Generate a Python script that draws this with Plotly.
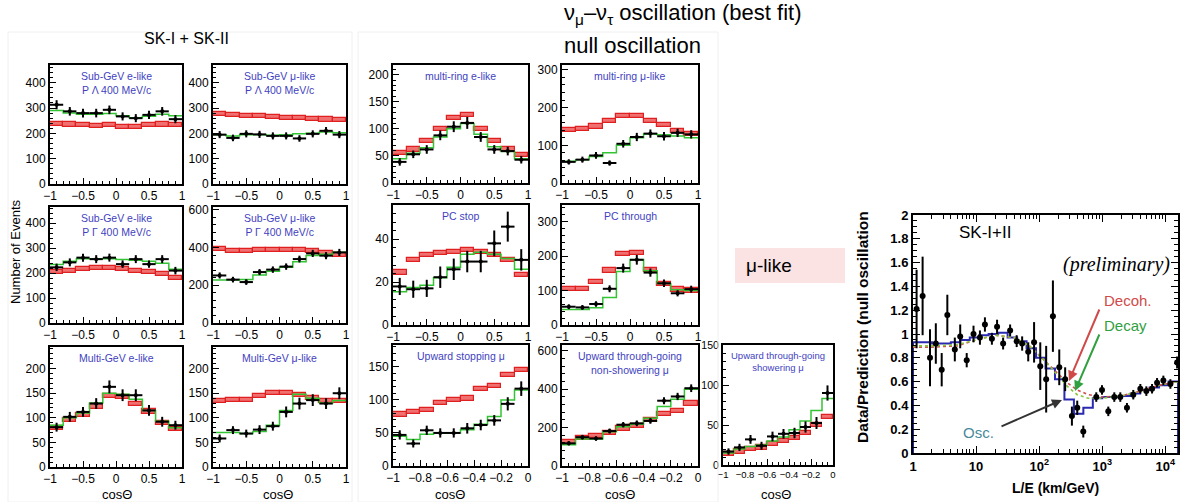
import plotly.graph_objects as go

W, H = 1180, 502
FONT = "Liberation Sans, Arial, sans-serif"
SERIF = "Liberation Serif, Times New Roman, serif"
BLUE_TXT = "#3f3fbf"
GREEN = "#33c433"
RED_LINE = "#e02020"
RED_FILL = "rgba(236,70,70,0.78)"

# ---------------- bins (categories) ----------------
cos_edges = [-1.0, -0.8, -0.6, -0.4, -0.2, 0.0, 0.2, 0.4, 0.6, 0.8, 1.0]
up_edges = [-1.0, -0.9, -0.8, -0.7, -0.6, -0.5, -0.4, -0.3, -0.2, -0.1, 0.0]

# ---------------- Sub-GeV e-like P<400 ----------------
sge_lo_data = [313, 287, 280, 280, 293, 267, 260, 273, 287, 256]
sge_lo_err = [18, 17, 17, 17, 17, 16, 16, 16, 17, 16]
sge_lo_osc = [290, 280, 275, 275, 278, 270, 262, 268, 275, 270]
sge_lo_null = [238, 235, 232, 230, 232, 225, 225, 232, 235, 232]

# ---------------- Sub-GeV mu-like P<400 ----------------
sgm_lo_data = [195, 182, 198, 196, 190, 190, 180, 198, 210, 195]
sgm_lo_err = [14, 13, 14, 14, 14, 14, 13, 14, 15, 14]
sgm_lo_osc = [195, 190, 195, 195, 193, 195, 198, 200, 205, 202]
sgm_lo_null = [275, 272, 270, 268, 266, 262, 260, 258, 255, 252]

# ---------------- Sub-GeV e-like P>400 ----------------
sge_hi_data = [223, 243, 262, 256, 262, 236, 256, 236, 256, 210]
sge_hi_err = [15, 16, 16, 16, 16, 15, 16, 15, 16, 15]
sge_hi_osc = [235, 248, 258, 258, 258, 255, 252, 248, 240, 215]
sge_hi_null = [203, 210, 218, 222, 220, 216, 210, 203, 195, 182]

# ---------------- Sub-GeV mu-like P>400 ----------------
sgm_hi_data = [252, 230, 217, 270, 283, 299, 339, 369, 357, 374]
sgm_hi_err = [16, 15, 15, 16, 17, 17, 18, 19, 19, 19]
sgm_hi_osc = [228, 228, 230, 255, 275, 295, 325, 358, 365, 375]
sgm_hi_null = [390, 382, 382, 385, 388, 386, 385, 382, 372, 360]

# ---------------- Multi-GeV e-like ----------------
mge_data = [81, 102, 112, 129, 163, 146, 146, 115, 92, 85]
mge_err = [9, 10, 10, 11, 13, 12, 12, 11, 10, 9]
mge_osc = [85, 100, 110, 130, 150, 148, 138, 115, 93, 80]
mge_null = [80, 95, 105, 123, 145, 142, 128, 113, 90, 78]

# ---------------- Multi-GeV mu-like ----------------
mgm_data = [58, 75, 68, 76, 83, 112, 129, 136, 129, 150]
mgm_err = [8, 8, 8, 9, 9, 11, 12, 12, 11, 12]
mgm_osc = [70, 70, 68, 72, 85, 115, 148, 140, 130, 135]
mgm_null = [135, 137, 136, 145, 150, 150, 147, 140, 134, 134]

# ---------------- multi-ring e-like ----------------
mre_data = [39, 53, 62, 88, 104, 111, 85, 62, 59, 43]
mre_err = [7, 7, 8, 9, 10, 11, 9, 8, 8, 7]
mre_osc = [45, 55, 65, 85, 100, 110, 90, 67, 58, 45]
mre_null = [55, 62, 78, 100, 120, 125, 100, 78, 62, 52]

# ---------------- multi-ring mu-like ----------------
mrm_data = [56, 62, 73, 53, 104, 122, 131, 124, 133, 129]
mrm_err = [7, 8, 9, 7, 10, 11, 11, 11, 11, 11]
mrm_osc = [58, 62, 70, 80, 100, 120, 130, 128, 125, 120]
mrm_null = [140, 143, 150, 165, 178, 178, 165, 153, 138, 130]

# ---------------- PC stop ----------------
pcs_data = [18, 16.7, 17.1, 22.3, 26, 29.6, 29.6, 38.1, 45.9, 30.4]
pcs_err = [4, 4, 4, 5, 5, 5, 5, 6, 7, 5]
pcs_osc = [15.5, 17.5, 18.5, 22, 27, 33, 34, 33, 31, 26]
pcs_null = [24.5, 30.5, 32.5, 33.5, 34, 35, 34, 32.5, 30.5, 23.5]

# ---------------- PC through ----------------
pct_data = [53, 51, 61, 105, 165, 189, 152, 121, 92, 104]
pct_err = [7, 7, 8, 10, 13, 14, 12, 11, 9, 10]
pct_osc = [45, 45, 50, 80, 155, 190, 157, 120, 102, 100]
pct_null = [105, 105, 125, 158, 205, 208, 160, 120, 103, 100]

# ---------------- Upward stopping mu ----------------
ups_data = [47, 34, 54, 50, 50, 57, 62, 69, 94, 117]
ups_err = [7, 6, 7, 7, 7, 8, 8, 8, 10, 11]
ups_osc = [45, 40, 48, 50, 50, 55, 63, 75, 100, 115]
ups_null = [78, 82, 85, 95, 100, 102, 117, 121, 138, 145]

# ---------------- Upward through-going non-showering mu ----------------
utn_data = [118, 150, 143, 182, 215, 222, 235, 340, 362, 405]
utn_err = [11, 12, 12, 13, 14, 15, 15, 18, 19, 20]
utn_osc = [110, 140, 140, 178, 205, 218, 248, 310, 348, 400]
utn_null = [122, 145, 155, 172, 195, 210, 240, 270, 287, 325]

# ---------------- Upward through-going showering mu ----------------
uts_data = [16.8, 22, 32, 24, 35.7, 39, 40, 47.5, 52.5, 90]
uts_err = [4, 4.5, 5.5, 5, 6, 6, 6.5, 7, 7.5, 9.5]
uts_osc = [15, 20, 23, 25, 30, 35, 44, 55, 68, 83]
uts_null = [14, 17, 20, 22, 26, 30, 34, 40, 50, 60]

# ---------------- L/E analysis ----------------
le_x = [1.14, 1.42, 1.86, 2.3, 2.85, 3.5, 4.6, 5.6, 7.1, 9.1,
        11.5, 13.8, 17.8, 21.5, 26.8, 34.6, 44, 53.7, 67, 83,
        104, 129, 165, 208, 258, 330, 401, 500, 803, 989,
        1245, 1550, 1930, 2460, 3100, 4010, 4990, 6150, 7380, 9290,
        12000, 15350]
le_y = [1.21, 1.32, 0.80, 0.92, 0.70, 1.16, 0.87, 0.98, 0.78, 1.00,
        0.97, 1.08, 0.96, 1.06, 0.92, 1.03, 0.94, 0.92, 0.85, 0.93,
        0.73, 0.62, 1.15, 0.72, 0.62, 0.31, 0.38, 0.18, 0.47, 0.53,
        0.35, 0.47, 0.47, 0.38, 0.49, 0.54, 0.52, 0.54, 0.59, 0.61,
        0.58, 0.76]
le_err = [0.33, 0.33, 0.24, 0.17, 0.14, 0.17, 0.10, 0.10, 0.06, 0.07,
          0.06, 0.06, 0.05, 0.06, 0.05, 0.05, 0.05, 0.06, 0.08, 0.17,
          0.20, 0.28, 0.30, 0.15, 0.10, 0.08, 0.06, 0.05, 0.04, 0.04,
          0.04, 0.04, 0.04, 0.04, 0.04, 0.04, 0.04, 0.04, 0.04, 0.04,
          0.04, 0.05]
osc_edges = [1, 1.41, 2, 2.82, 3.98, 5.62, 7.94, 11.2, 15.8, 22.4,
             31.6, 44.7, 63.1, 89.1, 126, 178, 251, 355, 501, 708,
             1000, 1413, 1995, 2818, 3981, 5623, 7943, 11220, 15849]
osc_vals = [0.93, 0.93, 0.92, 0.92, 0.93, 0.95, 0.97, 0.99, 1.00, 1.01,
            0.97, 0.94, 0.88, 0.80, 0.71, 0.62, 0.45, 0.33, 0.38, 0.46,
            0.47, 0.47, 0.48, 0.50, 0.53, 0.55, 0.57, 0.60]
model_x = [1, 2, 5, 10, 20, 40, 70, 120, 200, 280, 400, 600, 1000, 2000, 4000, 8000, 15849]
decoh_y = [0.89, 0.89, 0.90, 0.95, 0.99, 0.97, 0.90, 0.78, 0.66, 0.59, 0.53, 0.49, 0.47, 0.48, 0.52, 0.57, 0.60]
decay_y = [0.90, 0.90, 0.91, 0.95, 0.99, 0.97, 0.90, 0.78, 0.65, 0.56, 0.49, 0.46, 0.46, 0.48, 0.52, 0.57, 0.60]

# ---------------- panel specs (layout in pixels) ----------------
panels = [
    dict(title="Sub-GeV e-like<br>P Λ 400 MeV/c", edges=cos_edges, data=sge_lo_data, err=sge_lo_err,
         osc=sge_lo_osc, null=sge_lo_null, box=(50, 65, 182, 184), ymax=470, dtick=100, minor=20, tsize=10.5),
    dict(title="Sub-GeV μ-like<br>P Λ 400 MeV/c", edges=cos_edges, data=sgm_lo_data, err=sgm_lo_err,
         osc=sgm_lo_osc, null=sgm_lo_null, box=(213, 65, 346, 184), ymax=470, dtick=100, minor=20, tsize=10.5),
    dict(title="Sub-GeV e-like<br>P Γ 400 MeV/c", edges=cos_edges, data=sge_hi_data, err=sge_hi_err,
         osc=sge_hi_osc, null=sge_hi_null, box=(50, 207, 182, 323), ymax=465, dtick=100, minor=20, tsize=10.5),
    dict(title="Sub-GeV μ-like<br>P Γ 400 MeV/c", edges=cos_edges, data=sgm_hi_data, err=sgm_hi_err,
         osc=sgm_hi_osc, null=sgm_hi_null, box=(213, 207, 346, 323), ymax=615, dtick=200, minor=40, tsize=10.5),
    dict(title="Multi-GeV e-like", edges=cos_edges, data=mge_data, err=mge_err,
         osc=mge_osc, null=mge_null, box=(50, 347, 182, 467), ymax=244, dtick=50, minor=10, tsize=10.5),
    dict(title="Multi-GeV μ-like", edges=cos_edges, data=mgm_data, err=mgm_err,
         osc=mgm_osc, null=mgm_null, box=(213, 347, 346, 467), ymax=244, dtick=50, minor=10, tsize=10.5),
    dict(title="multi-ring e-like", edges=cos_edges, data=mre_data, err=mre_err,
         osc=mre_osc, null=mre_null, box=(393, 65, 528, 183), ymax=218, dtick=50, minor=10, tsize=10.5),
    dict(title="multi-ring μ-like", edges=cos_edges, data=mrm_data, err=mrm_err,
         osc=mrm_osc, null=mrm_null, box=(562, 65, 698, 183), ymax=313, dtick=100, minor=20, tsize=10.5),
    dict(title="PC stop", edges=cos_edges, data=pcs_data, err=pcs_err,
         osc=pcs_osc, null=pcs_null, box=(393, 205, 528, 325), ymax=56, dtick=20, minor=4, tsize=10.5),
    dict(title="PC through", edges=cos_edges, data=pct_data, err=pct_err,
         osc=pct_osc, null=pct_null, box=(562, 205, 698, 325), ymax=348, dtick=100, minor=20, tsize=10.5),
    dict(title="Upward stopping μ", edges=up_edges, data=ups_data, err=ups_err,
         osc=ups_osc, null=ups_null, box=(393, 345, 528, 466), ymax=183, dtick=50, minor=10, tsize=10.5),
    dict(title="Upward through-going<br>non-showering μ", edges=up_edges, data=utn_data, err=utn_err,
         osc=utn_osc, null=utn_null, box=(562, 345, 698, 466), ymax=630, dtick=200, minor=40, tsize=10.5),
    dict(title="Upward through-going<br>showering μ", edges=up_edges, data=uts_data, err=uts_err,
         osc=uts_osc, null=uts_null, box=(723, 345, 833, 465), ymax=150, dtick=50, minor=10, tsize=9.5),
]

fig = go.Figure()
layout_axes = {}
annotations = []
shapes = []


def dom_x(a, b):
    return [a / W, b / W]


def dom_y(top, bottom):
    return [1 - bottom / H, 1 - top / H]


def axis_style(**kw):
    d = dict(showline=True, linecolor="black", linewidth=2, mirror=True,
             ticks="inside", ticklen=6, tickwidth=1.3, tickcolor="black",
             showgrid=False, zeroline=False, automargin=False, tickangle=0,
             tickfont=dict(size=12, family=FONT, color="black"))
    d.update(kw)
    return d


for i, p in enumerate(panels, start=1):
    sfx = "" if i == 1 else str(i)
    xa, ya = "x" + sfx, "y" + sfx
    edges = p["edges"]
    centers = [(a + b) / 2 for a, b in zip(edges[:-1], edges[1:])]
    widths = [b - a for a, b in zip(edges[:-1], edges[1:])]
    band = p["ymax"] * 0.035
    fig.add_trace(go.Bar(
        x=centers, y=[band] * len(centers), base=[v - band / 2 for v in p["null"]],
        width=widths, marker=dict(color=RED_FILL, line=dict(color=RED_LINE, width=1.2)),
        xaxis=xa, yaxis=ya, showlegend=False, hoverinfo="skip"))
    fig.add_trace(go.Scatter(
        x=edges, y=p["osc"] + [p["osc"][-1]], mode="lines",
        line=dict(shape="hv", color=GREEN, width=1.5),
        xaxis=xa, yaxis=ya, showlegend=False, hoverinfo="skip"))
    fig.add_trace(go.Scatter(
        x=centers, y=p["data"], mode="markers",
        marker=dict(color="black", size=4),
        error_x=dict(type="data", array=[w / 2 for w in widths], thickness=2, width=0, color="black"),
        error_y=dict(type="data", array=p["err"], thickness=2, width=0, color="black"),
        xaxis=xa, yaxis=ya, showlegend=False))
    x0, y0, x1, y1 = p["box"]
    full = edges is cos_edges
    xdt = 0.5 if full else 0.2
    xminor = 0.1 if full else 0.05
    narrow = (x1 - x0) < 120
    tf = 9.5 if narrow else 12
    layout_axes["xaxis" + sfx] = axis_style(
        domain=dom_x(x0, x1), anchor=ya, range=[edges[0], edges[-1]],
        tick0=-1, dtick=xdt,
        tickfont=dict(size=tf, family=FONT, color="black"),
        minor=dict(ticks="inside", ticklen=3, dtick=xminor, tick0=-1, tickcolor="black", tickwidth=1))
    layout_axes["yaxis" + sfx] = axis_style(
        domain=dom_y(y0, y1), anchor=xa, range=[0, p["ymax"]],
        tick0=0, dtick=p["dtick"],
        tickfont=dict(size=(10.5 if narrow else 12), family=FONT, color="black"),
        minor=dict(ticks="inside", ticklen=3, dtick=p["minor"], tick0=0, tickcolor="black", tickwidth=1))
    annotations.append(dict(
        text=p["title"], x=(x0 + x1) / 2 / W, y=1 - (y0 + 3) / H, xref="paper", yref="paper",
        xanchor="center", yanchor="top", showarrow=False,
        font=dict(size=p["tsize"], family=FONT, color=BLUE_TXT)))

# ---------------- L/E panel ----------------
n = len(panels) + 1
sfx = str(n)
xa, ya = "x" + sfx, "y" + sfx
fig.add_trace(go.Scatter(
    x=[osc_edges[0]] + osc_edges + [osc_edges[-1]],
    y=[0] + osc_vals + [osc_vals[-1], 0], mode="lines",
    line=dict(shape="hv", color="#2a2ab0", width=2),
    xaxis=xa, yaxis=ya, showlegend=False, hoverinfo="skip"))
fig.add_trace(go.Scatter(
    x=model_x, y=decoh_y, mode="lines", line=dict(color="#d05050", width=1.6, dash="dot"),
    xaxis=xa, yaxis=ya, showlegend=False, hoverinfo="skip"))
fig.add_trace(go.Scatter(
    x=model_x, y=decay_y, mode="lines", line=dict(color="#8ac43a", width=1.6, dash="dot"),
    xaxis=xa, yaxis=ya, showlegend=False, hoverinfo="skip"))
fig.add_trace(go.Scatter(
    x=le_x, y=le_y, mode="markers", marker=dict(color="black", size=6),
    error_y=dict(type="data", array=le_err, thickness=2, width=0, color="black"),
    xaxis=xa, yaxis=ya, showlegend=False))

LE_BOX = (913, 215, 1178, 453)
layout_axes["xaxis" + sfx] = axis_style(
    domain=dom_x(LE_BOX[0], LE_BOX[2]), anchor=ya, type="log", range=[0, 4.2],
    tickmode="array", tickvals=[1, 10, 100, 1000, 10000],
    ticktext=["1", "10", "10<sup>2</sup>", "10<sup>3</sup>", "10<sup>4</sup>"],
    mirror="allticks", ticklen=7,
    minor=dict(ticks="inside", ticklen=4, dtick="D1", tickcolor="black", tickwidth=1),
    tickfont=dict(size=13, family=FONT, color="black", weight="bold"))
layout_axes["yaxis" + sfx] = axis_style(
    domain=dom_y(LE_BOX[1], LE_BOX[3]), anchor=xa, range=[0, 2],
    tick0=0, dtick=0.2, mirror="allticks", ticklen=7,
    minor=dict(ticks="inside", ticklen=4, dtick=0.05, tick0=0, tickcolor="black", tickwidth=1),
    tickfont=dict(size=13, family=FONT, color="black", weight="bold"))


def txt(text, xp, yp, size, color="black", family=FONT, xanchor="center", angle=0, **kw):
    f = dict(size=size, family=family, color=color)
    f.update(kw)
    annotations.append(dict(text=text, x=xp / W, y=1 - yp / H, xref="paper", yref="paper",
                            xanchor=xanchor, yanchor="middle", showarrow=False,
                            textangle=angle, font=f))


def arrow(x_head, y_head, x_tail, y_tail, color):
    annotations.append(dict(text="", x=x_head / W, y=1 - y_head / H, xref="paper", yref="paper",
                            ax=x_tail - x_head, ay=y_tail - y_head, axref="pixel", ayref="pixel",
                            showarrow=True, arrowhead=2, arrowsize=1, arrowwidth=2, arrowcolor=color))


# block frames (faint)
shapes.append(dict(type="rect", xref="paper", yref="paper", x0=8 / W, x1=352 / W, y0=0, y1=1 - 32 / H,
                   line=dict(color="#f0f0f0", width=1)))
shapes.append(dict(type="rect", xref="paper", yref="paper", x0=358 / W, x1=718 / W, y0=0, y1=1 - 32 / H,
                   line=dict(color="#f0f0f0", width=1)))
# mu-like box
shapes.append(dict(type="rect", xref="paper", yref="paper", x0=735 / W, x1=845 / W,
                   y0=1 - 283 / H, y1=1 - 248 / H, fillcolor="#fbe3e3", line=dict(width=0), layer="below"))

# headers
txt("SK-I + SK-II", 186, 38, 16)
txt("ν<sub>μ</sub>–ν<sub>τ</sub> oscillation (best fit)", 562, 14, 22, xanchor="left")
txt("null oscillation", 562, 45, 22, xanchor="left")
txt("μ-like", 744, 265, 19, xanchor="left")
txt("Number of Events", 15, 252, 13, angle=-90)
for cx in (117, 278, 450, 620, 776):
    txt("cosΘ", cx, 494, 13)

# L/E panel texts
txt("Data/Prediction (null oscillation", 862, 327, 15.5, angle=-90, weight="bold")
txt("L/E (km/GeV)", 1055, 488, 14, weight="bold")
txt("SK-I+II", 985, 232, 17)
txt("(preliminary)", 1116, 264, 20, family=SERIF, style="italic")
txt("Decoh.", 1102, 300, 15, color="#d04a4a", xanchor="left")
txt("Decay", 1102, 325, 15, color="#30a040", xanchor="left")
txt("Osc.", 978, 432, 15, color="#4a8a9a")
arrow(1069, 381, 1100, 308, "#d04a4a")
arrow(1075, 391, 1100, 333, "#30a040")
arrow(1062, 400, 1000, 427, "#333333")

fig.update_layout(
    width=W, height=H, autosize=False,
    margin=dict(l=0, r=0, t=0, b=0, pad=0),
    paper_bgcolor="white", plot_bgcolor="white",
    font=dict(family=FONT, color="black"),
    barmode="overlay", bargap=0,
    annotations=annotations, shapes=shapes,
    showlegend=False,
    **layout_axes,
)

fig.write_html("out.html", config={"displayModeBar": False},
               post_script="document.body.style.margin='0px';")
